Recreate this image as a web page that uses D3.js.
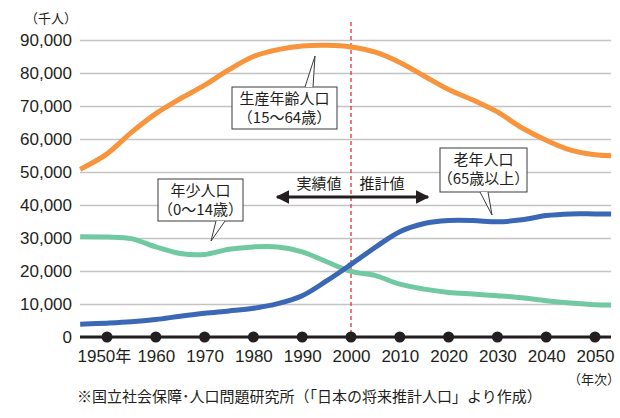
<!DOCTYPE html>
<html>
<head>
<meta charset="utf-8">
<script src="https://cdn.jsdelivr.net/npm/d3@7"></script>
<style>
  body { margin: 0; background: #fff; }
  svg { display: block; }
  text { font-family: "Liberation Sans", "Noto Sans CJK JP", sans-serif; fill: #231f20; }
  .jp { font-family: "Noto Sans CJK JP", sans-serif; }
</style>
</head>
<body>
<svg width="620" height="418"></svg>
<script>
// years (first/last points are where the drawn lines start/stop)
var years = [1944.5, 1950, 1955, 1960, 1965, 1970, 1975, 1980, 1985, 1990, 1995, 2000,
             2005, 2010, 2015, 2020, 2025, 2030, 2035, 2040, 2045, 2050, 2053.3];
// thousands of people
var workingAge = [50800, 55500, 62000, 67700, 72200, 76300, 81000, 85000, 87100, 88200, 88400, 87900,
                  86300, 83200, 79100, 75000, 71800, 68200, 63400, 59600, 56600, 55200, 54900];
var children   = [30400, 30300, 29800, 27300, 25300, 25000, 26600, 27300, 27300, 25800, 22800, 19900,
                  18600, 16000, 14500, 13500, 13000, 12500, 11900, 11000, 10300, 9800, 9700];
var elderly    = [3900, 4200, 4600, 5300, 6300, 7200, 7900, 8700, 10100, 12500, 17000, 22000,
                  27200, 31900, 34400, 35300, 35300, 34900, 35500, 36800, 37300, 37300, 37300];
var decadeTicks = [1950, 1960, 1970, 1980, 1990, 2000, 2010, 2020, 2030, 2040, 2050];
var yTicks = [0, 10000, 20000, 30000, 40000, 50000, 60000, 70000, 80000, 90000];

var svg = d3.select("svg");
var plotLeft = 80, plotRight = 611, plotTop = 40, plotBottom = 337;

var scaleX = d3.scaleLinear().domain([1950, 2050]).range([107, 595]);
var scaleY = d3.scaleLinear().domain([0, 90000]).range([plotBottom, plotTop]);

// gridlines + y labels
var axisY = svg.append("g")
    .attr("transform", "translate(" + plotLeft + ",0)")
    .call(d3.axisLeft(scaleY).tickValues(yTicks).tickSize(-(plotRight - plotLeft)).tickPadding(8)
        .tickFormat(d3.format(",")));
axisY.select(".domain").remove();
axisY.selectAll(".tick line").attr("stroke", "#c4c4c4").attr("stroke-width", 1.6);
axisY.selectAll(".tick text").style("font-size", "17px").attr("fill", "#231f20");

svg.append("text").attr("class", "jp").attr("x", 25).attr("y", 23)
    .style("font-size", "13px").text("（千人）");

// divider between actual and projected
svg.append("line")
    .attr("x1", scaleX(2000)).attr("x2", scaleX(2000))
    .attr("y1", 22).attr("y2", plotBottom)
    .attr("stroke", "#d9232e").attr("stroke-width", 1.2)
    .attr("stroke-dasharray", "4,3");

var line = d3.line()
    .x(function (d) { return scaleX(d[0]); })
    .y(function (d) { return scaleY(d[1]); })
    .curve(d3.curveCatmullRom.alpha(0.5));

var series = [
    {id: "children", values: children, color: "#71c9a2"},
    {id: "elderly", values: elderly, color: "#3a68b4"},
    {id: "working", values: workingAge, color: "#f7943c"}
];

svg.selectAll(".series")
    .data(series)
    .enter().append("path")
    .attr("class", "series")
    .attr("fill", "none")
    .attr("stroke", function (d) { return d.color; })
    .attr("stroke-width", 5)
    .attr("d", function (d) {
        return line(years.map(function (y, i) { return [y, d.values[i]]; }));
    });

// zero axis with decade dots
svg.append("line")
    .attr("x1", plotLeft).attr("x2", plotRight)
    .attr("y1", plotBottom).attr("y2", plotBottom)
    .attr("stroke", "#231f20").attr("stroke-width", 3);

svg.selectAll(".dot")
    .data(decadeTicks)
    .enter().append("circle")
    .attr("cx", function (d) { return scaleX(d); })
    .attr("cy", plotBottom)
    .attr("r", 5.5)
    .attr("fill", "#231f20");

var axisX = svg.append("g")
    .attr("transform", "translate(0," + plotBottom + ")")
    .call(d3.axisBottom(scaleX).tickValues(decadeTicks).tickSize(0).tickPadding(13)
        .tickFormat(function (d) { return d; }));
axisX.select(".domain").remove();
axisX.selectAll(".tick text").style("font-size", "17px").attr("fill", "#231f20");
// first label carries 年
axisX.selectAll(".tick text").filter(function (d) { return d === 1950; })
    .attr("text-anchor", "start").attr("x", -30)
    .text("1950").append("tspan").attr("class", "jp").style("font-size", "16px").text("年");

svg.append("text").attr("class", "jp").attr("x", 568).attr("y", 384)
    .style("font-size", "13px").text("（年次）");

svg.append("text").attr("class", "jp").attr("x", 77).attr("y", 402)
    .style("font-size", "15px")
    .text("※国立社会保障･人口問題研究所（「日本の将来推計人口」より作成）");

// actual / projected arrow
var arrowY = 197;
var defs = svg.append("defs");
defs.append("marker").attr("id", "arrow")
    .attr("viewBox", "0 0 10 10").attr("refX", 9).attr("refY", 5)
    .attr("markerWidth", 4.5).attr("markerHeight", 4.5)
    .attr("markerUnits", "strokeWidth")
    .attr("orient", "auto-start-reverse")
    .append("path").attr("d", "M0,0L10,5L0,10z").attr("fill", "#231f20");

svg.append("line")
    .attr("x1", 277).attr("x2", 428)
    .attr("y1", arrowY).attr("y2", arrowY)
    .attr("stroke", "#231f20").attr("stroke-width", 3)
    .attr("marker-start", "url(#arrow)").attr("marker-end", "url(#arrow)");

svg.append("text").attr("class", "jp").attr("x", 319).attr("y", 189)
    .attr("text-anchor", "middle").style("font-size", "15px").text("実績値");
svg.append("text").attr("class", "jp").attr("x", 382).attr("y", 189)
    .attr("text-anchor", "middle").style("font-size", "15px").text("推計値");

// callouts
var callouts = [
    {lines: ["生産年齢人口", "（15～64歳）"], box: [232, 87, 105, 42], ptr: [[305, 87], [313, 87], [315, 56]]},
    {lines: ["年少人口", "（0～14歳）"], box: [158, 179, 85, 42], ptr: [[216, 221], [225, 221], [211, 241]]},
    {lines: ["老年人口", "（65歳以上）"], box: [440, 148, 87, 44], ptr: [[480, 192], [488, 192], [492, 215]]}
];

callouts.forEach(function (c) {
    var g = svg.append("g");
    var b = c.box;
    g.append("rect")
        .attr("x", b[0]).attr("y", b[1]).attr("width", b[2]).attr("height", b[3])
        .attr("fill", "#fff").attr("stroke", "#3a3a3a").attr("stroke-width", 1);
    // pointer: white wedge covering the box edge, then its two sides
    g.append("path")
        .attr("d", "M" + c.ptr[0] + "L" + c.ptr[2] + "L" + c.ptr[1] + "Z")
        .attr("fill", "#fff").attr("stroke", "none");
    g.append("path")
        .attr("d", "M" + c.ptr[0] + "L" + c.ptr[2] + "L" + c.ptr[1])
        .attr("fill", "none").attr("stroke", "#3a3a3a").attr("stroke-width", 1);
    c.lines.forEach(function (t, i) {
        g.append("text").attr("class", "jp")
            .attr("x", b[0] + b[2] / 2)
            .attr("y", b[1] + 17 + i * 19)
            .attr("text-anchor", "middle")
            .style("font-size", "15px")
            .text(t);
    });
});
</script>
</body>
</html>
